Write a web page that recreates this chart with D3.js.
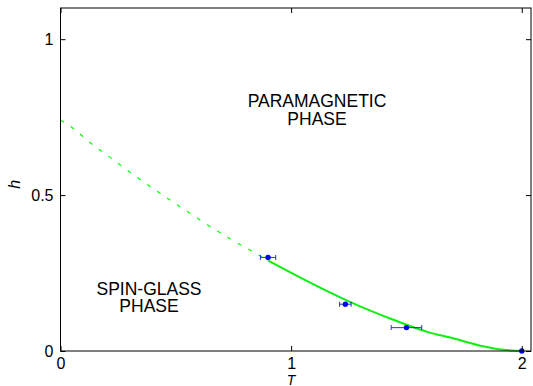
<!DOCTYPE html>
<html>
<head>
<meta charset="utf-8">
<script src="https://cdn.jsdelivr.net/npm/d3@7"></script>
<style>
  body { margin: 0; background: #fff; }
  svg { display: block; font-family: "Liberation Sans", Arial, Helvetica, sans-serif; }
</style>
</head>
<body>
<svg id="chart" width="533" height="386"></svg>
<script>
// phase boundary
const dashT = [0, 0.05, 0.13, 0.215, 0.3, 0.48, 0.61, 0.74, 0.84, 0.9]
const dashH = [0.74, 0.717, 0.667, 0.621, 0.574, 0.482, 0.418, 0.358, 0.316, 0.29]
const lineT = [0.9, 1.07, 1.17, 1.25, 1.44, 1.6, 1.69, 1.82, 1.92, 2.0]
const lineH = [0.29, 0.224, 0.187, 0.159, 0.101, 0.059, 0.043, 0.017, 0.004, 0]

// simulation points with horizontal error bars
const ptT = [0.9, 1.235, 1.5, 2.0]
const ptH = [0.3, 0.15, 0.075, 0]
const ptErr = [0.033, 0.025, 0.066, 0]

const xTicks = [0, 1, 2]
const yTicks = [0, 0.5, 1]

const svg = d3.select('#chart')
const mLeft = 60.5, mRight = 531, mTop = 8, mBottom = 351

const x = d3.scaleLinear().domain([0, 2.04]).range([mLeft, mRight])
const y = d3.scaleLinear().domain([0, 1.1]).range([mBottom, mTop])

const line = d3.line().x(d => x(d[0])).y(d => y(d[1])).curve(d3.curveMonotoneX)

// dashed part
svg.append('path')
  .datum(d3.zip(dashT, dashH))
  .attr('d', line)
  .attr('fill', 'none')
  .attr('stroke', '#00ff00')
  .attr('stroke-width', 1.2)
  .attr('stroke-dasharray', '4,8')

// solid part
svg.append('path')
  .datum(d3.zip(lineT, lineH))
  .attr('d', line)
  .attr('fill', 'none')
  .attr('stroke', '#11ee11')
  .attr('stroke-width', 2)

// error bars
const pts = ptT.map((t, i) => ({ t: t, h: ptH[i], e: ptErr[i] }))
const eb = svg.append('g').attr('stroke', '#0000ff').attr('stroke-opacity', 0.75).attr('stroke-width', 1.1)
pts.filter(p => p.e > 0).forEach(p => {
  eb.append('line').attr('x1', x(p.t - p.e)).attr('x2', x(p.t + p.e)).attr('y1', y(p.h)).attr('y2', y(p.h))
  eb.append('line').attr('x1', x(p.t - p.e)).attr('x2', x(p.t - p.e)).attr('y1', y(p.h) - 2.5).attr('y2', y(p.h) + 2.5)
  eb.append('line').attr('x1', x(p.t + p.e)).attr('x2', x(p.t + p.e)).attr('y1', y(p.h) - 2.5).attr('y2', y(p.h) + 2.5)
})

svg.append('g').selectAll('circle')
  .data(pts)
  .enter()
  .append('circle')
  .attr('cx', d => x(d.t))
  .attr('cy', d => y(d.h))
  .attr('r', 2.7)
  .attr('fill', '#0000ff')

// box + inward ticks
const axB = d3.axisBottom(x).tickValues(xTicks).tickSize(-5).tickPadding(7).tickFormat(d3.format('d'))
const axT = d3.axisTop(x).tickValues(xTicks).tickSize(-5).tickFormat('')
const axL = d3.axisLeft(y).tickValues(yTicks).tickSize(-5).tickPadding(7).tickFormat(d => d)
const axR = d3.axisRight(y).tickValues(yTicks).tickSize(-5).tickFormat('')

function style(g) {
  g.selectAll('path').attr('stroke', '#000')
  g.selectAll('line').attr('stroke', '#000')
  g.selectAll('text').attr('font-size', 16).attr('fill', '#000').attr('font-family', null)
}
svg.append('g').attr('transform', `translate(0,${mBottom})`).call(axB).call(style)
svg.append('g').attr('transform', `translate(0,${mTop})`).call(axT).call(style)
svg.append('g').attr('transform', `translate(${mLeft},0)`).call(axL).call(style)
svg.append('g').attr('transform', `translate(${mRight},0)`).call(axR).call(style)
svg.selectAll('.domain').remove()
svg.append('rect')
  .attr('x', mLeft).attr('y', mTop)
  .attr('width', mRight - mLeft).attr('height', mBottom - mTop)
  .attr('fill', 'none').attr('stroke', '#000')

// axis labels
svg.append('text')
  .attr('x', x(1)).attr('y', 384.5)
  .attr('text-anchor', 'middle')
  .attr('font-size', 14).attr('font-style', 'italic')
  .text('T')
svg.append('text')
  .attr('transform', `translate(20,${y(0.535)}) rotate(-90)`)
  .attr('text-anchor', 'middle')
  .attr('font-size', 16).attr('font-style', 'italic')
  .text('h')

// phase labels
const para = svg.append('text').attr('text-anchor', 'middle').attr('font-size', 17.5)
para.append('tspan').attr('x', 317).attr('y', 107).text('PARAMAGNETIC')
para.append('tspan').attr('x', 317).attr('y', 125).text('PHASE')
const sg = svg.append('text').attr('text-anchor', 'middle').attr('font-size', 17.5)
sg.append('tspan').attr('x', 149).attr('y', 295).text('SPIN-GLASS')
sg.append('tspan').attr('x', 149).attr('y', 312).text('PHASE')
</script>
</body>
</html>
